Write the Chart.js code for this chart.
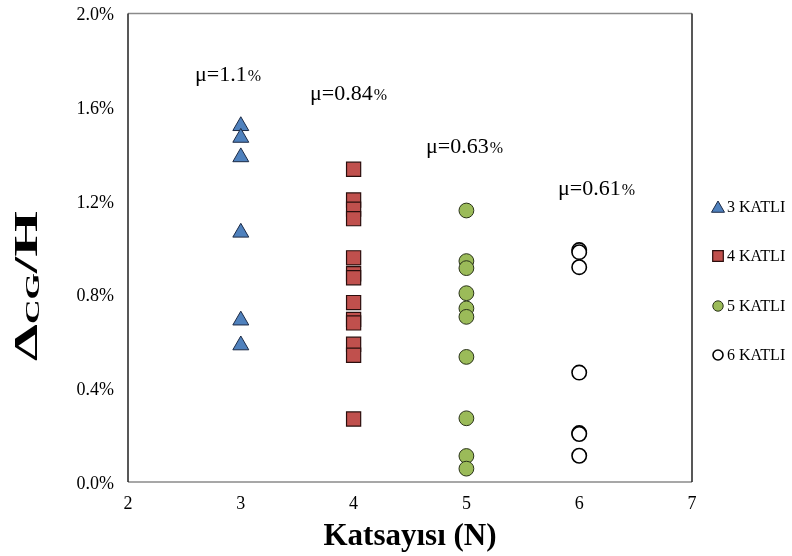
<!DOCTYPE html>
<html><head><meta charset="utf-8">
<script src="https://cdn.jsdelivr.net/npm/chart.js"></script>
<style>html,body{margin:0;padding:0;background:#fff}canvas{display:block}</style>
</head><body>
<canvas id="c" width="792" height="556"></canvas>
<script>
// ---- data ----
const categories = [3, 4, 5, 6];
const seriesNames = ['3 KATLI', '4 KATLI', '5 KATLI', '6 KATLI'];
const katli3 = [1.52, 1.47, 1.387, 1.065, 0.69, 0.584];
const katli4 = [1.335, 1.204, 1.165, 1.124, 0.957, 0.889, 0.872, 0.766, 0.694, 0.679, 0.588, 0.541, 0.269];
const katli5 = [1.159, 0.943, 0.913, 0.806, 0.741, 0.705, 0.534, 0.272, 0.111, 0.057];
const katli6 = [0.99, 0.981, 0.917, 0.467, 0.209, 0.205, 0.112];
const meanValues = ['1.1', '0.84', '0.63', '0.61'];
const yTicks = [0, 0.4, 0.8, 1.2, 1.6, 2.0];
const xTicks = [2, 3, 4, 5, 6, 7];
const xTitle = 'Katsayısı (N)';

// ---- annotation anchors (data units) ----
const meanAnchorX = [2.594, 3.613, 4.642, 5.812];
const meanAnchorY = [1.713, 1.631, 1.405, 1.224];

const allSeries = [katli3, katli4, katli5, katli6];
const styles = [
  {pointStyle: 'triangle', bg: '#4F81BD', border: '#1c2a45', r: 9.2, bw: 1, lr: 7.5},
  {pointStyle: 'rect', bg: '#C0504D', border: '#2a0e0d', r: 10, bw: 1.2, lr: 7.5},
  {pointStyle: 'circle', bg: '#9BBB59', border: '#2a331a', r: 7.4, bw: 1, lr: 5.2},
  {pointStyle: 'circle', bg: '#FFFFFF', border: '#000000', r: 7.2, bw: 1.6, lr: 5}
];

const datasets = allSeries.map((vals, i) => ({
  label: seriesNames[i],
  data: vals.map(v => ({x: categories[i], y: v})),
  pointStyle: styles[i].pointStyle,
  backgroundColor: styles[i].bg,
  borderColor: styles[i].border,
  pointRadius: styles[i].r,
  pointHoverRadius: styles[i].r,
  pointBorderWidth: styles[i].bw,
  showLine: false
}));

const SERIF = '"Liberation Serif", "Times New Roman", serif';

const extras = {
  id: 'extras',
  beforeDatasetsDraw(chart) {
    const {ctx, chartArea: a} = chart;
    ctx.save();
    ctx.lineWidth = 1.5;
    ctx.strokeStyle = '#8a8a8a';
    ctx.beginPath();
    ctx.moveTo(a.left, a.top); ctx.lineTo(a.right, a.top);
    ctx.moveTo(a.left, a.bottom); ctx.lineTo(a.right, a.bottom);
    ctx.stroke();
    ctx.strokeStyle = '#222';
    ctx.beginPath();
    ctx.moveTo(a.left, a.top); ctx.lineTo(a.left, a.bottom);
    ctx.moveTo(a.right, a.top); ctx.lineTo(a.right, a.bottom);
    ctx.stroke();
    ctx.restore();
  },
  afterDraw(chart) {
    const {ctx} = chart;
    const xs = chart.scales.x, ys = chart.scales.y;
    ctx.save();
    ctx.fillStyle = '#000';
    ctx.textBaseline = 'alphabetic';
    ctx.textAlign = 'left';
    // mean labels
    meanValues.forEach((m, i) => {
      const px = xs.getPixelForValue(meanAnchorX[i]);
      const py = ys.getPixelForValue(meanAnchorY[i]);
      ctx.font = '22px ' + SERIF;
      const t = 'μ=' + m;
      ctx.fillText(t, px, py);
      const w = ctx.measureText(t).width;
      ctx.font = '16px ' + SERIF;
      ctx.fillText('%', px + w + 1, py);
    });
    // legend
    const ly = [207, 256, 306, 355];
    datasets.forEach((ds, i) => {
      const st = styles[i];
      ctx.save();
      ctx.fillStyle = st.bg;
      ctx.strokeStyle = st.border;
      ctx.lineWidth = st.bw;
      Chart.helpers.drawPoint(ctx, {pointStyle: st.pointStyle, radius: st.lr, borderWidth: st.bw, rotation: 0}, 718, ly[i] + (st.pointStyle === 'triangle' ? 1.5 : 0));
      ctx.restore();
      ctx.fillStyle = '#000';
      ctx.font = '16px ' + SERIF;
      ctx.textBaseline = 'middle';
      ctx.fillText(ds.label, 727, ly[i] + 1);
    });
    // y axis title: Δ_CG/H
    ctx.textBaseline = 'alphabetic';
    const big = 'bold 33px ' + SERIF, small = 'bold 19px ' + SERIF;
    const parts = [['Δ', big, 0], ['CG', small, 2], ['/H', big, 0]];
    let W = 0;
    parts.forEach(p => { ctx.font = p[1]; p.push(ctx.measureText(p[0]).width); W += p[3]; });
    const targetLen = 150;
    const s = targetLen / W;
    ctx.translate(37, 286);
    ctx.rotate(-Math.PI / 2);
    ctx.scale(s, 1);
    let x = -W / 2;
    parts.forEach(p => { ctx.font = p[1]; ctx.fillText(p[0], x, p[2]); x += p[3]; });
    ctx.restore();
  }
};

new Chart(document.getElementById('c'), {
  type: 'scatter',
  data: {datasets},
  options: {
    responsive: false,
    devicePixelRatio: 1,
    animation: false,
    layout: {padding: {top: 13.5, right: 100, left: 0, bottom: 0}},
    plugins: {legend: {display: false}, tooltip: {enabled: false}},
    scales: {
      x: {
        type: 'linear', min: xTicks[0], max: xTicks[xTicks.length - 1],
        afterFit(scale) { scale.height = 74; scale.paddingLeft = 0; scale.paddingRight = 0; },
        afterBuildTicks(scale) { scale.ticks = xTicks.map(v => ({value: v})); },
        grid: {display: false, drawTicks: false},
        border: {display: false},
        ticks: {padding: 11, color: '#000', font: {family: SERIF, size: 18}, callback: v => String(v)},
        title: {display: true, text: xTitle, color: '#000', font: {family: SERIF, size: 31, weight: 'bold'}, padding: {top: 0, bottom: 0}}
      },
      y: {
        type: 'linear', min: yTicks[0], max: yTicks[yTicks.length - 1],
        afterFit(scale) { scale.width = 128; scale.paddingTop = 0; scale.paddingBottom = 0; },
        afterBuildTicks(scale) { scale.ticks = yTicks.map(v => ({value: v})); },
        grid: {display: false, drawTicks: false},
        border: {display: false},
        ticks: {padding: 14, labelOffset: 2, color: '#000', font: {family: SERIF, size: 18}, callback: v => Number(v).toFixed(1) + '%'}
      }
    }
  },
  plugins: [extras]
});
</script>
</body></html>
